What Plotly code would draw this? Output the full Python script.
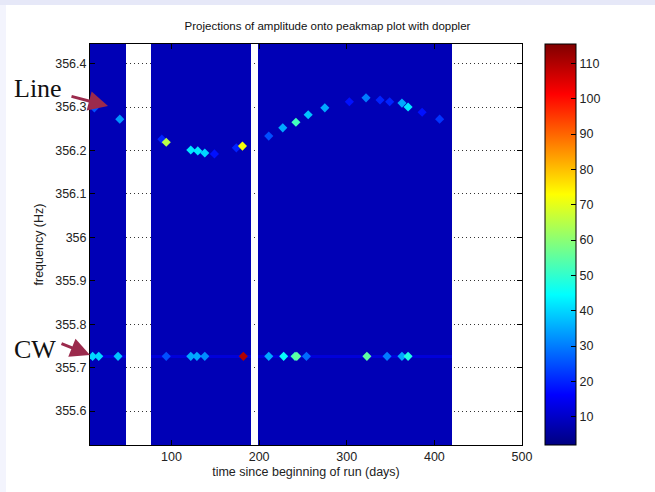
import plotly.graph_objects as go

# ---------------- data ----------------
seg_start = [7, 77, 199]
seg_end = [48, 191, 420]
background_level = 8
cw_band_level = 12
cw_freq = 355.726
cw_band_halfwidth = 0.004

line_t = [12, 41, 89, 94, 122, 130, 138, 149, 174, 181, 211, 227, 242, 256,
          275, 303, 322, 338, 349, 363, 370, 386, 406]
line_f = [356.298, 356.272, 356.226, 356.219, 356.201, 356.199, 356.194, 356.192,
          356.206, 356.210, 356.233, 356.252, 356.265, 356.282, 356.298, 356.312,
          356.321, 356.316, 356.312, 356.309, 356.300, 356.288, 356.272]
line_amp = [25, 33, 20, 65, 42, 42, 40, 18, 20, 72, 25, 35, 52, 38, 35, 18,
            30, 20, 20, 35, 42, 18, 22]

cw_t = [10, 17, 39, 94, 122, 129, 138, 182, 211, 228, 241, 243, 254, 323, 346, 363, 370]
cw_amp = [40, 40, 38, 25, 35, 35, 32, 110, 35, 45, 52, 55, 28, 55, 30, 35, 48]

x_ticks = [100, 200, 300, 400, 500]
y_ticks = [355.6, 355.7, 355.8, 355.9, 356.0, 356.1, 356.2, 356.3, 356.4]
y_ticktext = ["355.6", "355.7", "355.8", "355.9", "356", "356.1", "356.2", "356.3", "356.4"]
cbar_ticks = [10, 20, 30, 40, 50, 60, 70, 80, 90, 100, 110]

x_range = [7, 500]
y_range = [355.522, 356.445]
z_range = [2, 115.5]

# ---------------- heatmap grid from segments ----------------
x_edges = []
for s, e in zip(seg_start, seg_end):
    x_edges.append(s)
    x_edges.append(e)
# columns: seg, gap, seg, gap, seg
y_edges = [y_range[0], cw_freq - cw_band_halfwidth, cw_freq + cw_band_halfwidth, y_range[1]]
row_levels = [background_level, cw_band_level, background_level]
z = []
for lvl in row_levels:
    row = []
    for k in range(len(x_edges) - 1):
        row.append(lvl if k % 2 == 0 else None)
    z.append(row)

jet = [[0.0, "rgb(0,0,128)"], [0.125, "rgb(0,0,255)"], [0.375, "rgb(0,255,255)"],
       [0.625, "rgb(255,255,0)"], [0.875, "rgb(255,0,0)"], [1.0, "rgb(128,0,0)"]]

fig = go.Figure()
fig.add_trace(go.Heatmap(x=x_edges, y=y_edges, z=z, coloraxis="coloraxis",
                         hoverinfo="skip"))
fig.add_trace(go.Scatter(x=line_t, y=line_f, mode="markers",
                         marker=dict(symbol="diamond", size=7, color=line_amp,
                                     coloraxis="coloraxis", line=dict(width=0)),
                         showlegend=False))
fig.add_trace(go.Scatter(x=cw_t, y=[cw_freq] * len(cw_t), mode="markers",
                         marker=dict(symbol="diamond", size=7, color=cw_amp,
                                     coloraxis="coloraxis", line=dict(width=0)),
                         showlegend=False))

# ---------------- layout ----------------
W, H = 655, 492
L, R, T, B = 90, 133, 44, 47
pw, ph = W - L - R, H - T - B


def px(xp):
    return (xp - L) / pw


def py(yp):
    return (H - B - yp) / ph


tick_font = dict(family="Liberation Sans, Arial, sans-serif", size=12.5, color="#222")

fig.update_layout(
    width=W, height=H,
    margin=dict(l=L, r=R, t=T, b=B),
    paper_bgcolor="white", plot_bgcolor="white",
    showlegend=False,
    title=dict(text="Projections of amplitude onto peakmap plot with doppler",
               x=px(306), xanchor="center", y=1 - 26 / H, yanchor="middle",
               font=dict(family="Liberation Sans, Arial, sans-serif", size=11.5, color="#111")),
    coloraxis=dict(colorscale=jet, cmin=z_range[0], cmax=z_range[1],
                   colorbar=dict(x=px(545), xanchor="left", y=0.5, yanchor="middle",
                                 len=1.0, lenmode="fraction", thickness=31,
                                 thicknessmode="pixels", outlinecolor="black",
                                 outlinewidth=1, tickvals=cbar_ticks, ticks="inside",
                                 ticklen=5, tickcolor="black", tickfont=tick_font,
                                 xpad=0, ypad=0)),
    xaxis=dict(range=x_range, tickvals=x_ticks, ticks="inside", ticklen=5,
               tickcolor="black", showline=True, linecolor="black", linewidth=1,
               mirror="allticks", showgrid=True, gridcolor="#333", griddash="1px,3px",
               gridwidth=1, zeroline=False, tickfont=tick_font,
               title=dict(text="time since beginning of run (days)", font=tick_font,
                          standoff=4)),
    yaxis=dict(range=y_range, tickvals=y_ticks, ticktext=y_ticktext, ticks="inside",
               ticklen=5, tickcolor="black", showline=True, linecolor="black",
               linewidth=1, mirror="allticks", showgrid=True, gridcolor="#333",
               griddash="1px,3px", gridwidth=1, zeroline=False, tickfont=tick_font,
               title=dict(text="frequency (Hz)", font=tick_font, standoff=8)),
)

# frame strips of the screenshot
fig.add_shape(type="rect", xref="paper", yref="paper", x0=px(0), x1=px(W), y0=py(5),
              y1=py(0), fillcolor="#e6e8f8", line=dict(width=0), layer="below")
fig.add_shape(type="rect", xref="paper", yref="paper", x0=px(0), x1=px(6), y0=py(H),
              y1=py(5), fillcolor="#f3f4fd", line=dict(width=0), layer="below")

arrow_color = "#9b2a4c"
serif = dict(family="Liberation Serif, Times New Roman, serif", size=26, color="#111")

fig.add_annotation(x=px(38), y=py(88), xref="paper", yref="paper", text="Line",
                   xanchor="center", yanchor="middle", showarrow=False, font=serif)
fig.add_annotation(x=px(108), y=py(106), xref="paper", yref="paper", text="",
                   showarrow=True, ax=-38, ay=-10, arrowhead=2, arrowsize=1.3,
                   arrowwidth=3, arrowcolor=arrow_color)
fig.add_annotation(x=px(35), y=py(349), xref="paper", yref="paper", text="CW",
                   xanchor="center", yanchor="middle", showarrow=False, font=serif)
fig.add_annotation(x=px(90), y=py(355), xref="paper", yref="paper", text="",
                   showarrow=True, ax=-30, ay=-12, arrowhead=2, arrowsize=1.3,
                   arrowwidth=3, arrowcolor=arrow_color)

fig.write_html("out.html")
